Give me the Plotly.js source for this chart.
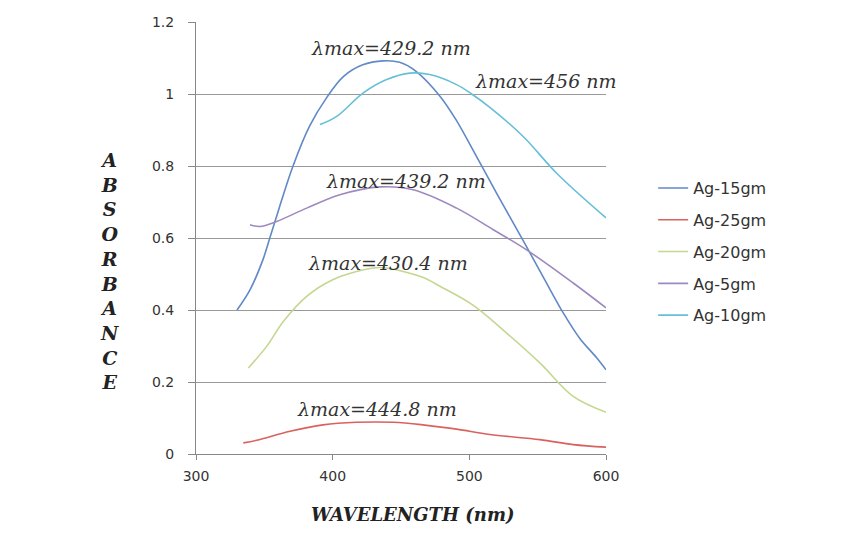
<!DOCTYPE html>
<html><head><meta charset="utf-8">
<script src="https://cdn.plot.ly/plotly-3.0.1.min.js"></script>
<style>html,body{margin:0;padding:0;background:#fff}#chart{width:843px;height:559px}</style>
</head><body><div id="chart"></div>
<script>
// Series names (legend order)
const seriesNames = ["Ag-15gm", "Ag-25gm", "Ag-20gm", "Ag-5gm", "Ag-10gm"];
const seriesColors = ["#6189C6", "#D9625E", "#C4D790", "#9D89C0", "#66BFD7"];

// Ag-15gm
const ag15_x = [330, 339.5, 349, 354, 361, 371, 383, 395.6, 408, 422, 437, 449, 461, 478.5, 490, 505, 520, 539.4, 555, 568.7, 581, 593, 600];
const ag15_y = [0.40, 0.456, 0.54, 0.60, 0.685, 0.80, 0.91, 0.99, 1.049, 1.081, 1.092, 1.088, 1.063, 0.994, 0.93, 0.828, 0.724, 0.593, 0.485, 0.392, 0.32, 0.268, 0.234];
// Ag-25gm
const ag25_x = [334.6, 344.4, 368.8, 393, 417.5, 444.3, 466, 490.7, 515, 551.6, 576, 600];
const ag25_y = [0.031, 0.038, 0.063, 0.081, 0.088, 0.088, 0.081, 0.069, 0.054, 0.040, 0.026, 0.019];
// Ag-20gm
const ag20_x = [338.3, 351.7, 363.9, 381, 400, 417.5, 434.6, 451.6, 466.3, 478.5, 502.9, 527.3, 551.6, 576, 600];
const ag20_y = [0.239, 0.299, 0.368, 0.438, 0.484, 0.507, 0.518, 0.507, 0.49, 0.466, 0.413, 0.336, 0.253, 0.16, 0.116];
// Ag-5gm
const ag5_x = [339.5, 346.8, 359, 381, 405.3, 434.6, 459, 490.7, 517.5, 541.9, 576, 600];
const ag5_y = [0.637, 0.632, 0.646, 0.683, 0.72, 0.742, 0.734, 0.683, 0.623, 0.567, 0.475, 0.406];
// Ag-10gm
const ag10_x = [390.7, 403, 422.4, 439.5, 456.5, 471, 490.7, 501.7, 515, 539.4, 563.9, 600];
const ag10_y = [0.915, 0.938, 1.003, 1.04, 1.058, 1.054, 1.026, 1.0, 0.963, 0.882, 0.78, 0.656];

const xs = [ag15_x, ag25_x, ag20_x, ag5_x, ag10_x];
const ys = [ag15_y, ag25_y, ag20_y, ag5_y, ag10_y];

// Peak labels
const peakLabels = ["λmax=429.2 nm", "λmax=456 nm", "λmax=439.2 nm", "λmax=430.4 nm", "λmax=444.8 nm"];
const peakLabelX = [443, 556, 453.5, 440.7, 432.2];
const peakLabelY = [1.128, 1.035, 0.757, 0.531, 0.125];

const xTicks = [300, 400, 500, 600];
const yTicks = [0, 0.2, 0.4, 0.6, 0.8, 1, 1.2];
const yTickText = ["0", "0.2", "0.4", "0.6", "0.8", "1", "1.2"];
const yTitleLetters = "ABSORBANCE".split("");
const xTitle = "WAVELENGTH (nm)";

const traces = seriesNames.map((n, i) => ({
  x: xs[i], y: ys[i], name: n, type: "scatter", mode: "lines",
  line: {color: seriesColors[i], width: 1.6, shape: "spline", smoothing: 1},
  legendgroup: "g" + i
}));

const annotations = peakLabels.map((t, i) => ({
  x: peakLabelX[i], y: peakLabelY[i], xref: "x", yref: "y", text: t, showarrow: false,
  font: {family: "DejaVu Serif", size: 19, color: "#333333", style: "italic"},
  xanchor: "center", yanchor: "middle"
}));
annotations.push({
  xref: "paper", yref: "paper", x: -0.21, y: 0.4236, xanchor: "center", yanchor: "middle",
  text: "<b><i>" + yTitleLetters.join("<br>") + "</i></b>", showarrow: false,
  font: {family: "DejaVu Serif", size: 19, color: "#222222"}
});
annotations.push({
  xref: "paper", yref: "paper", x: 0.527, y: -0.141, xanchor: "center", yanchor: "middle",
  text: "<b><i>" + xTitle + "</i></b>", showarrow: false,
  font: {family: "DejaVu Serif", size: 18, color: "#222222"}
});

const layout = {
  width: 843, height: 559,
  margin: {l: 196, r: 237, t: 22, b: 105},
  paper_bgcolor: "#ffffff", plot_bgcolor: "#ffffff",
  showlegend: true,
  legend: {x: 1.115, y: 0.655, xanchor: "left", yanchor: "top",
    font: {family: "DejaVu Sans", size: 16, color: "#333333"},
    tracegroupgap: 8, bgcolor: "rgba(0,0,0,0)"},
  xaxis: {range: [300, 600], tickvals: xTicks, ticks: "outside", ticklen: 5, tickcolor: "#888888",
    showgrid: false, zeroline: false, showline: true, linecolor: "#888888", linewidth: 1,
    ticklabelstandoff: 4,
    tickfont: {family: "DejaVu Sans", size: 14, color: "#333333"}},
  yaxis: {range: [0, 1.2], tickvals: yTicks, ticktext: yTickText, ticks: "outside", ticklen: 7, tickcolor: "#888888",
    showgrid: true, gridcolor: "#999999", gridwidth: 1, zeroline: false, showline: true, linecolor: "#888888", linewidth: 1,
    ticklabelstandoff: 11,
    tickfont: {family: "DejaVu Sans", size: 14, color: "#333333"}},
  annotations: annotations
};

Plotly.newPlot("chart", traces, layout, {displayModeBar: false, staticPlot: true});
</script></body></html>
